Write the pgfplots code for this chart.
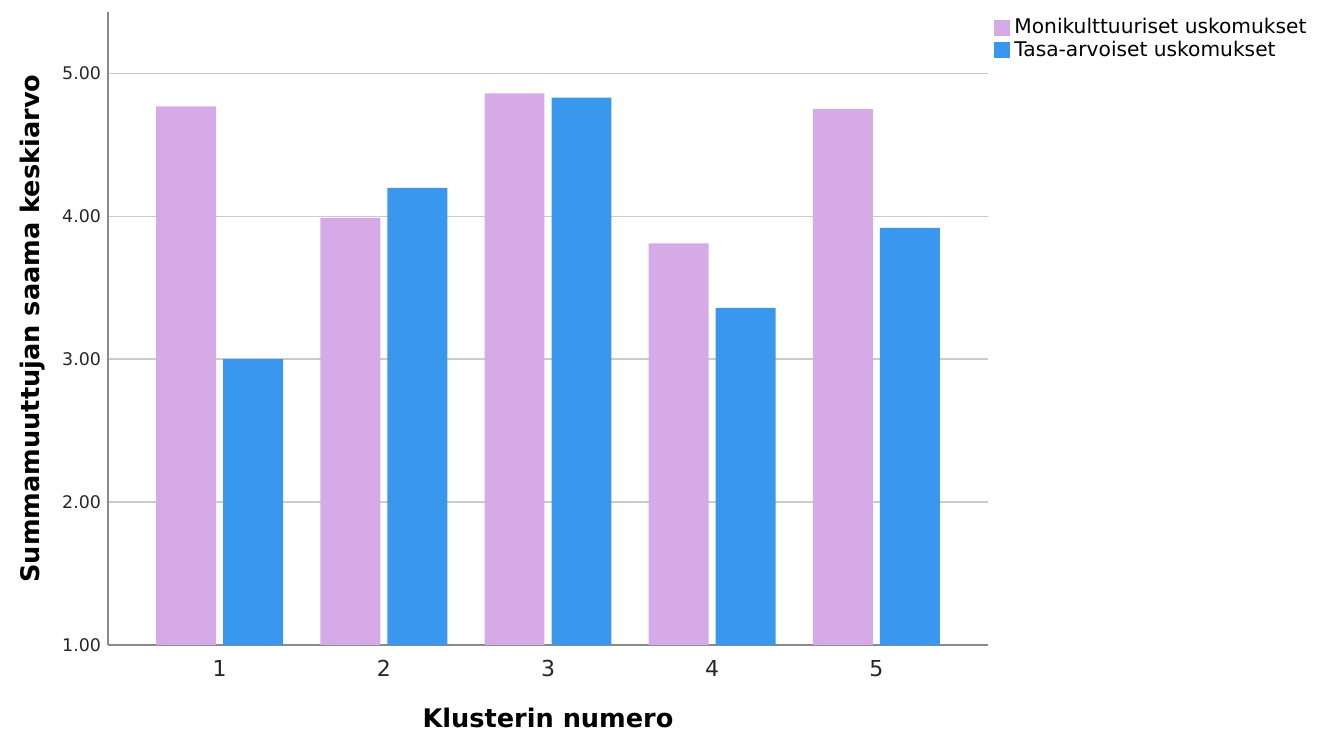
\documentclass[border=0pt]{standalone}
\usepackage{fontspec}
\setmainfont{DejaVu Sans}
\usepackage{pgfplots}
\pgfplotsset{compat=1.18}
\definecolor{monipink}{HTML}{D6AAE6}
\definecolor{tasablue}{HTML}{3A97EE}
\definecolor{gridgray}{HTML}{CBCBCB}
\definecolor{axisgray}{HTML}{8A8A8A}
\begin{document}
\begin{tikzpicture}
  \begin{axis}[
      scale only axis,
      width=440pt, height=316.5pt,
      xmin=0.32, xmax=5.68,
      ymin=1, ymax=5.43,
      axis x line*=bottom,
      axis y line*=left,
      axis line style={draw=axisgray, line width=0.8pt, -},
      xtick={1,2,3,4,5},
      xticklabels={1,2,3,4,5},
      ytick={1,2,3,4,5},
      major tick length=0pt,
      ymajorgrids,
      grid style={draw=gridgray, line width=0.8pt},
      yticklabel style={/pgf/number format/.cd, fixed, fixed zerofill, precision=2, assume math mode=true,
        /tikz/.cd, font=\fontsize{8.7}{10}\selectfont, text=black!85},
      xticklabel style={font=\fontsize{11}{12}\selectfont, text=black!85, yshift=-4pt},
      xlabel={Klusterin numero},
      ylabel={Summamuuttujan saama keskiarvo},
      xlabel style={font=\bfseries\fontsize{12.8}{15}\selectfont, at={(axis description cs:0.5,0)}, anchor=center, yshift=-36.5pt},
      ylabel style={font=\bfseries\fontsize{12.8}{15}\selectfont, at={(axis description cs:0,0.5)}, anchor=center, yshift=37.5pt},
      ybar,
      bar width=0.365,
      legend style={at={(rel axis cs:1,1)}, anchor=north west, xshift=0pt, yshift=1pt, draw=none,
        font=\fontsize{10.1}{11}\selectfont, row sep=-2pt,
        /tikz/every even column/.append style={column sep=2pt}},
      legend cell align=left,
      legend image code/.code={\fill[#1] (0pt,-4pt) rectangle (8pt,4pt);},
    ]
    \addplot[fill=monipink, draw=none, bar shift=-0.204] coordinates {(1,4.77) (2,3.99) (3,4.86) (4,3.81) (5,4.75)};
    \addlegendentry{Monikulttuuriset uskomukset}
    \addplot[fill=tasablue, draw=none, bar shift=0.204] coordinates {(1,3.00) (2,4.20) (3,4.83) (4,3.36) (5,3.92)};
    \addlegendentry{Tasa-arvoiset uskomukset}
  \end{axis}
  \useasboundingbox ([xshift=-54pt,yshift=-45pt]current axis.south west) rectangle ([xshift=610.5pt,yshift=322.5pt]current axis.south west);
\end{tikzpicture}
\end{document}
